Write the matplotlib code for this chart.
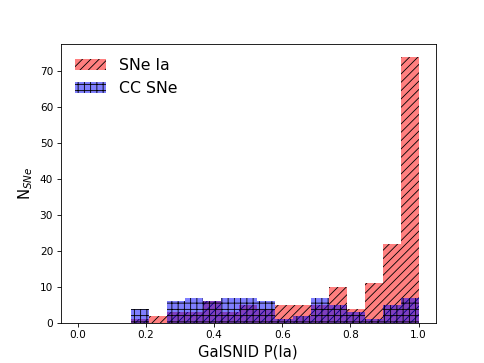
import numpy as np
import matplotlib
matplotlib.use("Agg")
import matplotlib.pyplot as plt

# Histogram counts per bin (19 equal bins from 0 to 1)
bin_edges = np.linspace(0, 1, 20)
ia_counts = [0, 0, 0, 1, 2, 3, 3, 6, 3, 5, 4, 5, 5, 5, 10, 4, 11, 22, 74]
cc_counts = [0, 0, 0, 4, 0, 6, 7, 6, 7, 7, 6, 1, 2, 7, 5, 3, 1, 5, 7]
labels = ["SNe Ia", "CC SNe"]

centers = 0.5 * (bin_edges[:-1] + bin_edges[1:])

plt.rcParams["hatch.linewidth"] = 0.8

fig, ax = plt.subplots(figsize=(6.4, 4.8), dpi=75.625)
ax.hist(centers, bins=bin_edges, weights=ia_counts, color="red", alpha=0.5,
        hatch="///", label=labels[0])
ax.hist(centers, bins=bin_edges, weights=cc_counts, color="blue", alpha=0.5,
        hatch="++", label=labels[1])
ax.set_xlabel("GalSNID P(Ia)", fontsize=14)
ax.set_ylabel(r"N$_{SNe}$", fontsize=14)
ax.legend(loc="upper left", frameon=False, fontsize=15)
fig.savefig("out.png", dpi=75.625)
